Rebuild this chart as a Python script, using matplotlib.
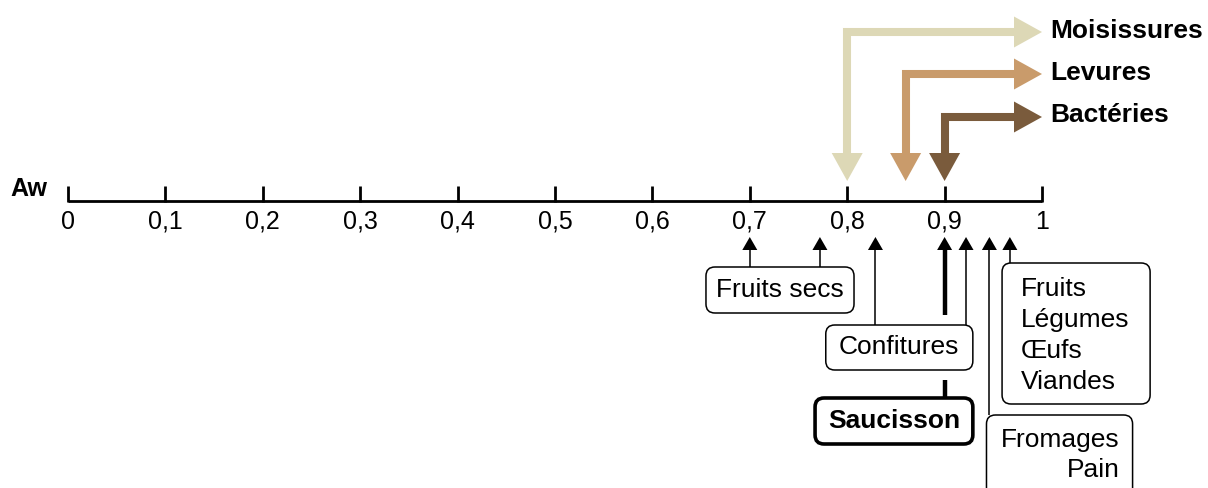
import matplotlib
matplotlib.use("Agg")
import matplotlib.pyplot as plt
from matplotlib.patches import FancyBboxPatch, Polygon

plt.rcParams['font.family'] = ['Liberation Sans', 'DejaVu Sans']

# --- data ---
tick_values = [0, 0.1, 0.2, 0.3, 0.4, 0.5, 0.6, 0.7, 0.8, 0.9, 1.0]
tick_labels = ['0', '0,1', '0,2', '0,3', '0,4', '0,5', '0,6', '0,7', '0,8', '0,9', '1']

microbes = ['Moisissures', 'Levures', 'Bactéries']
microbe_aw_min = [0.80, 0.86, 0.90]
microbe_colors = ['#ddd8b6', '#c99b6b', '#7a5b3c']

food_boxes = ['Fruits secs', 'Confitures', 'Saucisson',
              'Fruits\nLégumes\nŒufs\nViandes', 'Fromages\nPain']
food_aw = [[0.70, 0.772], [0.829, 0.922], [0.90], [0.967], [0.946]]

# --- layout (x in Aw units, y in pixels from top) ---
PX = 1 / 974.0          # one pixel in Aw units
AXIS_Y = 201
box_geom = [  # x0, x1, y0, y1
    (0.655, 0.807, 267, 313),
    (0.778, 0.929, 325, 370),
    (0.767, 0.929, 398, 444),
    (0.959, 1.111, 263, 404),
    (0.943, 1.093, 415, 510),
]
arrow_rows = [32, 74, 117]
FS = 19

fig = plt.figure(figsize=(12.08, 4.88), dpi=100)
ax = fig.add_axes([0, 0, 1, 1])
ax.set_xlim(-68 * PX, 1140 * PX)
ax.set_ylim(488, 0)
ax.axis('off')

# axis with ticks
ax.plot([tick_values[0], tick_values[-1]], [AXIS_Y, AXIS_Y], color='black', lw=2,
        solid_capstyle='butt')
for v, lab in zip(tick_values, tick_labels):
    ax.plot([v, v], [AXIS_Y - 15, AXIS_Y + 1], color='black', lw=2, solid_capstyle='butt')
    ax.text(v, 222, lab, ha='center', va='center', fontsize=18)
ax.text(-58 * PX, 189, 'Aw', ha='left', va='center', fontsize=18, fontweight='bold')

# microbe growth arrows
for name, aw, col, yrow in zip(microbes, microbe_aw_min, microbe_colors, arrow_rows):
    x_end = 1.0 - 28 * PX
    ax.plot([aw, aw, x_end], [153, yrow, yrow], color=col, lw=5.8,
            solid_joinstyle='miter', solid_capstyle='butt')
    ax.add_patch(Polygon([(aw - 15.5 * PX, 153), (aw + 15.5 * PX, 153), (aw, 181)],
                         closed=True, color=col, lw=0))
    ax.add_patch(Polygon([(x_end, yrow - 15.5), (x_end, yrow + 15.5), (1.0, yrow)],
                         closed=True, color=col, lw=0))
    ax.text(1.0 + 8 * PX, yrow + 5.5, name, ha='left', va='baseline', fontsize=FS,
            fontweight='bold')

# food boxes and pointers
for label, aws, (x0, x1, y0, y1) in zip(food_boxes, food_aw, box_geom):
    bold = label == 'Saucisson'
    ax.add_patch(FancyBboxPatch((x0, y0), x1 - x0, y1 - y0,
                                boxstyle='round,pad=0,rounding_size=%f' % (9 * PX),
                                mutation_aspect=1 / PX, fc='white', ec='black',
                                lw=2.6 if bold else 1.1, zorder=3))
    for aw in aws:
        lw = 3.2 if bold else 1.1
        if bold:
            ax.plot([aw, aw], [248, 315], color='black', lw=lw, solid_capstyle='butt')
            ax.plot([aw, aw], [380, y0], color='black', lw=lw, solid_capstyle='butt')
        else:
            ax.plot([aw, aw], [248, y0], color='black', lw=lw, solid_capstyle='butt')
        ax.add_patch(Polygon([(aw - 7.5 * PX, 250), (aw + 7.5 * PX, 250), (aw, 237)],
                             closed=True, color='black', lw=0))
    lines = label.split('\n')
    if label.startswith('Fruits\n'):
        for k, line in enumerate(lines):
            ax.text(x0 + 19 * PX, y0 + 26 + 31 * k, line, ha='left', va='center',
                    fontsize=FS, zorder=4)
    elif label.startswith('Fromages'):
        for k, line in enumerate(lines):
            ax.text(x1 - 13 * PX, y0 + 25 + 30 * k, line, ha='right', va='center',
                    fontsize=FS, zorder=4)
    else:
        ax.text((x0 + x1) / 2, (y0 + y1) / 2, label, ha='center', va='center',
                fontsize=FS, fontweight='bold' if bold else 'normal', zorder=4)

fig.savefig('out.png', dpi=100)
